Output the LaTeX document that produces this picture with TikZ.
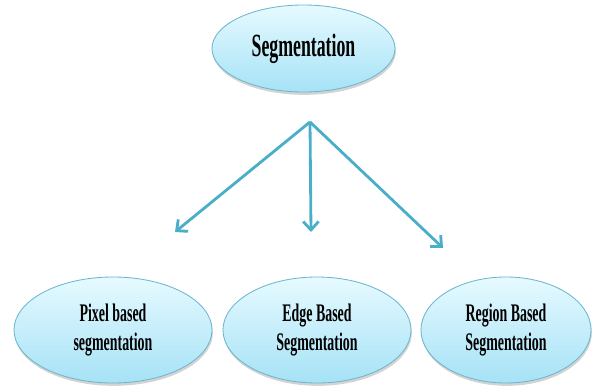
\documentclass[tikz,border=0pt]{standalone}
\usepackage{fontspec}
\usetikzlibrary{shapes.geometric,shadows,arrows.meta}
\newfontfamily\bubblefont{Liberation Serif}[FakeStretch=0.55]
\definecolor{bubbletop}{HTML}{E6FAFF}
\definecolor{bubblebottom}{HTML}{A6E2F6}
\definecolor{bubbleline}{HTML}{6CB6CE}
\definecolor{linkblue}{HTML}{4AAEC8}

\begin{document}
\begin{tikzpicture}[x=0.025cm,y=-0.025cm]
    \tikzstyle{bubble}=[ellipse, draw=bubbleline, line width=0.6pt, inner sep=0pt,
                        top color=bubbletop, bottom color=bubblebottom,
                        drop shadow={shadow xshift=0.6pt, shadow yshift=-2pt, opacity=0.35},
                        align=center, font=\bubblefont\bfseries\fontsize{18}{21}\selectfont]
    \tikzstyle{link}=[linkblue, line width=2pt, -{Straight Barb[length=6pt,width=11pt,line width=2pt]}]
    \useasboundingbox (0,0) rectangle (593,390);

    \node[bubble, minimum width=4.575cm, minimum height=2.175cm,
          font=\bubblefont\bfseries\fontsize{23}{27}\selectfont] (seg) at (303.5,48.5) {Segmentation};

    \node[bubble, minimum width=4.95cm, minimum height=2.65cm] (pixel)  at (113,330) {Pixel based\\segmentation};
    \node[bubble, minimum width=4.7cm,  minimum height=2.65cm] (edge)   at (317,330) {Edge Based\\Segmentation};
    \node[bubble, minimum width=4.25cm, minimum height=2.65cm] (region) at (506,330) {Region Based\\Segmentation};

    % arrows fan out from one point under the top bubble
    \coordinate (fork)      at (310,122);
    \coordinate (pixeltip)  at (175,232);
    \coordinate (edgetip)   at (311,232);
    \coordinate (regiontip) at (443,248);

    \draw[link] (fork) -- (pixeltip);
    \draw[link] (fork) -- (edgetip);
    \draw[link] (fork) -- (regiontip);

\end{tikzpicture}
\end{document}
